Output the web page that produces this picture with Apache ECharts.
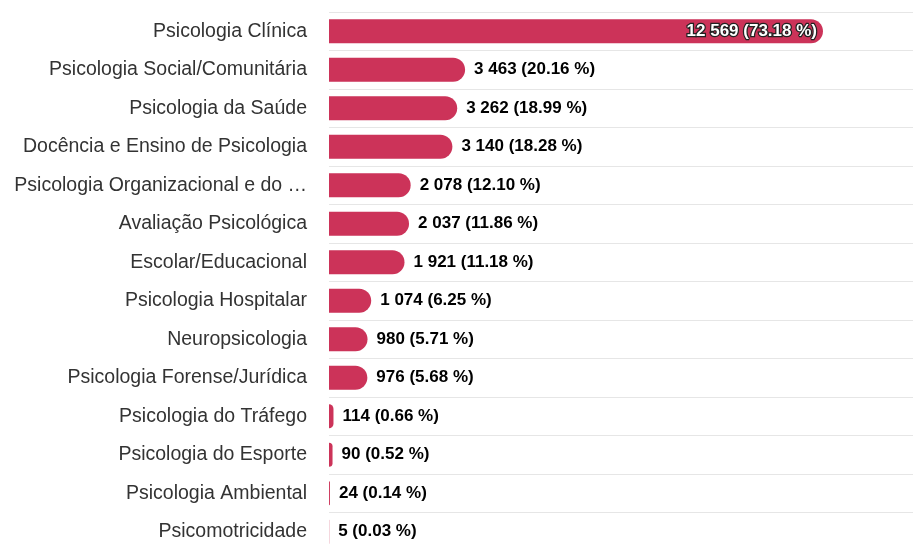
<!DOCTYPE html>
<html>
<head>
<meta charset="utf-8">
<script src="https://cdn.jsdelivr.net/npm/echarts@6/dist/echarts.min.js"></script>
<style>
  html, body { margin: 0; padding: 0; background: #fff; overflow: hidden; height: 546px; }
  #chart { width: 913px; height: 560px; }
</style>
</head>
<body>
<div id="chart"></div>
<script>
const categories = [
  "Psicologia Clínica",
  "Psicologia Social/Comunitária",
  "Psicologia da Saúde",
  "Docência e Ensino de Psicologia",
  "Psicologia Organizacional e do …",
  "Avaliação Psicológica",
  "Escolar/Educacional",
  "Psicologia Hospitalar",
  "Neuropsicologia",
  "Psicologia Forense/Jurídica",
  "Psicologia do Tráfego",
  "Psicologia do Esporte",
  "Psicologia Ambiental",
  "Psicomotricidade"
];
const counts = [12569, 3463, 3262, 3140, 2078, 2037, 1921, 1074, 980, 976, 114, 90, 24, 5];
const percents = ["73.18", "20.16", "18.99", "18.28", "12.10", "11.86", "11.18", "6.25", "5.71", "5.68", "0.66", "0.52", "0.14", "0.03"];

const fmt = v => String(v).replace(/\B(?=(\d{3})+(?!\d))/g, " ");

const chart = echarts.init(document.getElementById("chart"));
chart.setOption({
  animation: false,
  grid: { left: 329, right: 0, top: 12, bottom: 9 },
  xAxis: {
    type: "value",
    min: 0,
    max: 14860,
    show: false
  },
  yAxis: {
    type: "category",
    inverse: true,
    data: categories,
    axisLine: { show: false },
    axisTick: { show: false },
    splitLine: { show: true, lineStyle: { color: "#e6e6e6", width: 1 } },
    axisLabel: {
      margin: 22,
      padding: [3, 0, 0, 0],
      fontFamily: "Liberation Sans, Arial, sans-serif",
      fontSize: 19.5,
      color: "#333"
    }
  },
  series: [{
    type: "bar",
    barWidth: 24,
    data: counts.map((v, i) => ({
      value: v,
      label: i === 0 ? {
        position: "insideRight",
        distance: 6,
        color: "#fff",
        textBorderColor: "#222",
        textBorderWidth: 2.5
      } : {}
    })),
    itemStyle: { color: "#cc3359", borderRadius: [0, 12, 12, 0] },
    label: {
      show: true,
      position: "right",
      distance: 9,
      padding: [3, 0, 0, 0],
      fontFamily: "Liberation Sans, Arial, sans-serif",
      fontSize: 17,
      fontWeight: "bold",
      color: "#000",
      formatter: p => fmt(p.value) + " (" + percents[p.dataIndex] + " %)"
    }
  }]
});
</script>
</body>
</html>
